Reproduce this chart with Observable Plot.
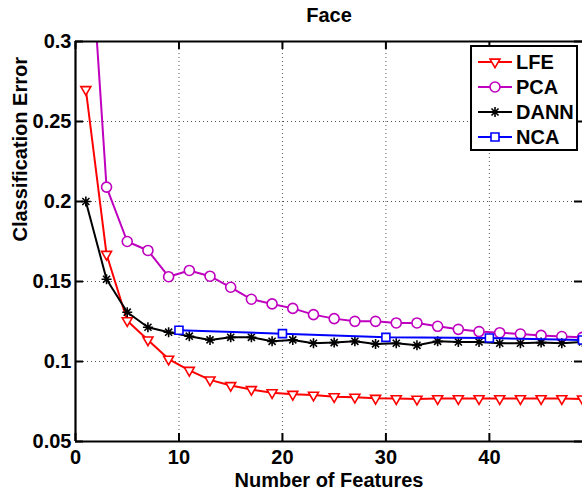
<!DOCTYPE html>
<html><head><meta charset="utf-8">
<script src="https://cdn.jsdelivr.net/npm/d3@7"></script>
<script src="https://cdn.jsdelivr.net/npm/@observablehq/plot@0.6"></script>
<style>
html,body{margin:0;padding:0;background:#fff;}
#chart{width:582px;height:491px;}
</style></head><body><div id="chart"></div>
<script>
// ---- data ----
const title = "Face";
const xLabel = "Number of Features";
const yLabel = "Classification Error";
const xTicks = [0, 10, 20, 30, 40];
const yTicks = [0.05, 0.1, 0.15, 0.2, 0.25, 0.3];
const xDomain = [0, 49];
const yDomain = [0.05, 0.3];
const features = [1,3,5,7,9,11,13,15,17,19,21,23,25,27,29,31,33,35,37,39,41,43,45,47,49];
const lfe  = [0.270,0.167,0.1255,0.1135,0.1015,0.0945,0.0885,0.085,0.0825,0.0805,0.0795,0.079,0.078,0.0777,0.077,0.0768,0.0765,0.0768,0.0768,0.0768,0.0768,0.0768,0.0768,0.0768,0.0766];
const pca  = [0.405,0.209,0.175,0.1694,0.153,0.1569,0.1533,0.1464,0.1389,0.136,0.1332,0.1293,0.1268,0.1251,0.1251,0.1241,0.1241,0.122,0.1201,0.1187,0.118,0.1172,0.1163,0.1156,0.1151];
const dann = [0.2,0.1514,0.1308,0.1214,0.1183,0.1158,0.1135,0.1151,0.1151,0.1126,0.1135,0.1114,0.1118,0.1126,0.111,0.1114,0.1101,0.1126,0.1122,0.1122,0.1114,0.1114,0.1118,0.1114,0.1122];
const ncaFeatures = [10, 20, 30, 40, 49];
const nca  = [0.1195, 0.1174, 0.1151, 0.1147, 0.1134];
const seriesNames = ["LFE", "PCA", "DANN", "NCA"];
const seriesColors = ["#ff0000", "#bf00bf", "#000000", "#0000ff"];

// ---- symbols ----
const rOf = size => Math.sqrt(size / Math.PI);
const triDown = {draw(ctx, size) { const r = rOf(size), h = r * Math.sqrt(3);
  ctx.moveTo(-r, -h / 3); ctx.lineTo(r, -h / 3); ctx.lineTo(0, 2 * h / 3); ctx.closePath(); }};
const square = {draw(ctx, size) { const s = rOf(size) * 0.8;
  ctx.moveTo(-s, -s); ctx.lineTo(s, -s); ctx.lineTo(s, s); ctx.lineTo(-s, s); ctx.closePath(); }};
const star8 = {draw(ctx, size) { const r = rOf(size), d = r * Math.SQRT1_2;
  ctx.moveTo(-r, 0); ctx.lineTo(r, 0); ctx.moveTo(0, -r); ctx.lineTo(0, r);
  ctx.moveTo(-d, -d); ctx.lineTo(d, d); ctx.moveTo(-d, d); ctx.lineTo(d, -d); }};
const seriesSymbols = [triDown, d3.symbolCircle, star8, square];
const seriesFill = ["white", "white", "none", "white"];

const rows = (xs, ys) => xs.map((x, i) => ({x, y: ys[i]}));
const seriesData = [rows(features, lfe), rows(features, pca), rows(features, dann), rows(ncaFeatures, nca)];

const W = 582, H = 491, mL = 75, mR = 0, mT = 41, mB = 50;
const fw = W - mL - mR, fh = H - mT - mB;
const font = "'Liberation Sans', Arial, Helvetica, sans-serif";
const FS = 20;

const seriesMarks = seriesData.flatMap((d, i) => [
  Plot.line(d, {x: "x", y: "y", stroke: seriesColors[i], strokeWidth: 2, clip: true}),
  Plot.dot(d, {x: "x", y: "y", r: 5, symbol: seriesSymbols[i], stroke: seriesColors[i], fill: seriesFill[i], strokeWidth: 1.6, clip: true})
]);

function legend(index, scales, values, dims) {
  const boxW = 106, boxH = 104;
  const left = dims.width - dims.marginRight - 5 - boxW;
  const top = dims.marginTop + 5;
  const g = d3.create("svg:g");
  g.append("rect").attr("x", left).attr("y", top).attr("width", boxW).attr("height", boxH)
    .attr("fill", "white").attr("stroke", "black").attr("stroke-width", 2);
  seriesNames.forEach((name, i) => {
    const cy = top + 16 + i * 25;
    g.append("line").attr("x1", left + 7).attr("x2", left + 41).attr("y1", cy).attr("y2", cy)
      .attr("stroke", seriesColors[i]).attr("stroke-width", 2);
    g.append("path").attr("transform", `translate(${left + 24},${cy})`)
      .attr("d", d3.symbol().type(seriesSymbols[i]).size(Math.PI * 25)())
      .attr("fill", seriesFill[i]).attr("stroke", seriesColors[i]).attr("stroke-width", 1.6);
    g.append("text").attr("x", left + 45).attr("y", cy).attr("dy", "0.36em")
      .attr("text-anchor", "start").attr("font-size", FS).attr("font-weight", "bold")
      .attr("font-family", font).attr("fill", "black").text(name);
  });
  return g.node();
}

const chart = Plot.plot({
  width: W, height: H,
  marginLeft: mL, marginRight: mR, marginTop: mT, marginBottom: mB,
  style: {fontFamily: font, fontWeight: "bold", fontSize: FS + "px", color: "#000", background: "#fff", overflow: "visible"},
  x: {domain: xDomain},
  y: {domain: yDomain},
  marks: [
    Plot.gridX(xTicks.filter(t => t > xDomain[0] && t < xDomain[1]), {stroke: "#555", strokeOpacity: 1, strokeWidth: 1, strokeDasharray: "1,3"}),
    Plot.gridY(yTicks.filter(t => t > yDomain[0] && t < yDomain[1]), {stroke: "#555", strokeOpacity: 1, strokeWidth: 1, strokeDasharray: "1,3"}),
    ...seriesMarks,
    Plot.ruleX([xDomain[0]], {stroke: "black", strokeWidth: 2.2}),
    Plot.ruleY([yDomain[0]], {stroke: "black", strokeWidth: 2.2}),
    Plot.ruleY([yDomain[1]], {stroke: "black", strokeWidth: 2.2}),
    Plot.tickX(xTicks, {x: d => d, insetTop: fh - 8, stroke: "black", strokeWidth: 2}),
    Plot.tickX(xTicks, {x: d => d, insetBottom: fh - 8, stroke: "black", strokeWidth: 2}),
    Plot.tickY(yTicks, {y: d => d, insetRight: fw - 8, stroke: "black", strokeWidth: 2}),
    Plot.tickY(yTicks, {y: d => d, insetLeft: fw - 8, stroke: "black", strokeWidth: 2}),
    Plot.axisX(xTicks, {tickSize: 0, tickPadding: 8, fontSize: FS, fontWeight: "bold", label: null}),
    Plot.axisY(yTicks, {tickSize: 0, tickPadding: 4, fontSize: FS, fontWeight: "bold", tickFormat: d3.format("~g"), label: null}),
    Plot.text([title], {text: d => d, frameAnchor: "top", dy: -26, lineAnchor: "middle", fontSize: FS, fontWeight: "bold"}),
    Plot.text([xLabel], {text: d => d, frameAnchor: "bottom", dy: 39, lineAnchor: "middle", fontSize: FS, fontWeight: "bold"}),
    Plot.text([yLabel], {text: d => d, frameAnchor: "left", dx: -55, rotate: -90, lineAnchor: "middle", fontSize: FS, fontWeight: "bold"}),
    legend
  ]
});
document.getElementById("chart").appendChild(chart);
</script>
</body></html>
